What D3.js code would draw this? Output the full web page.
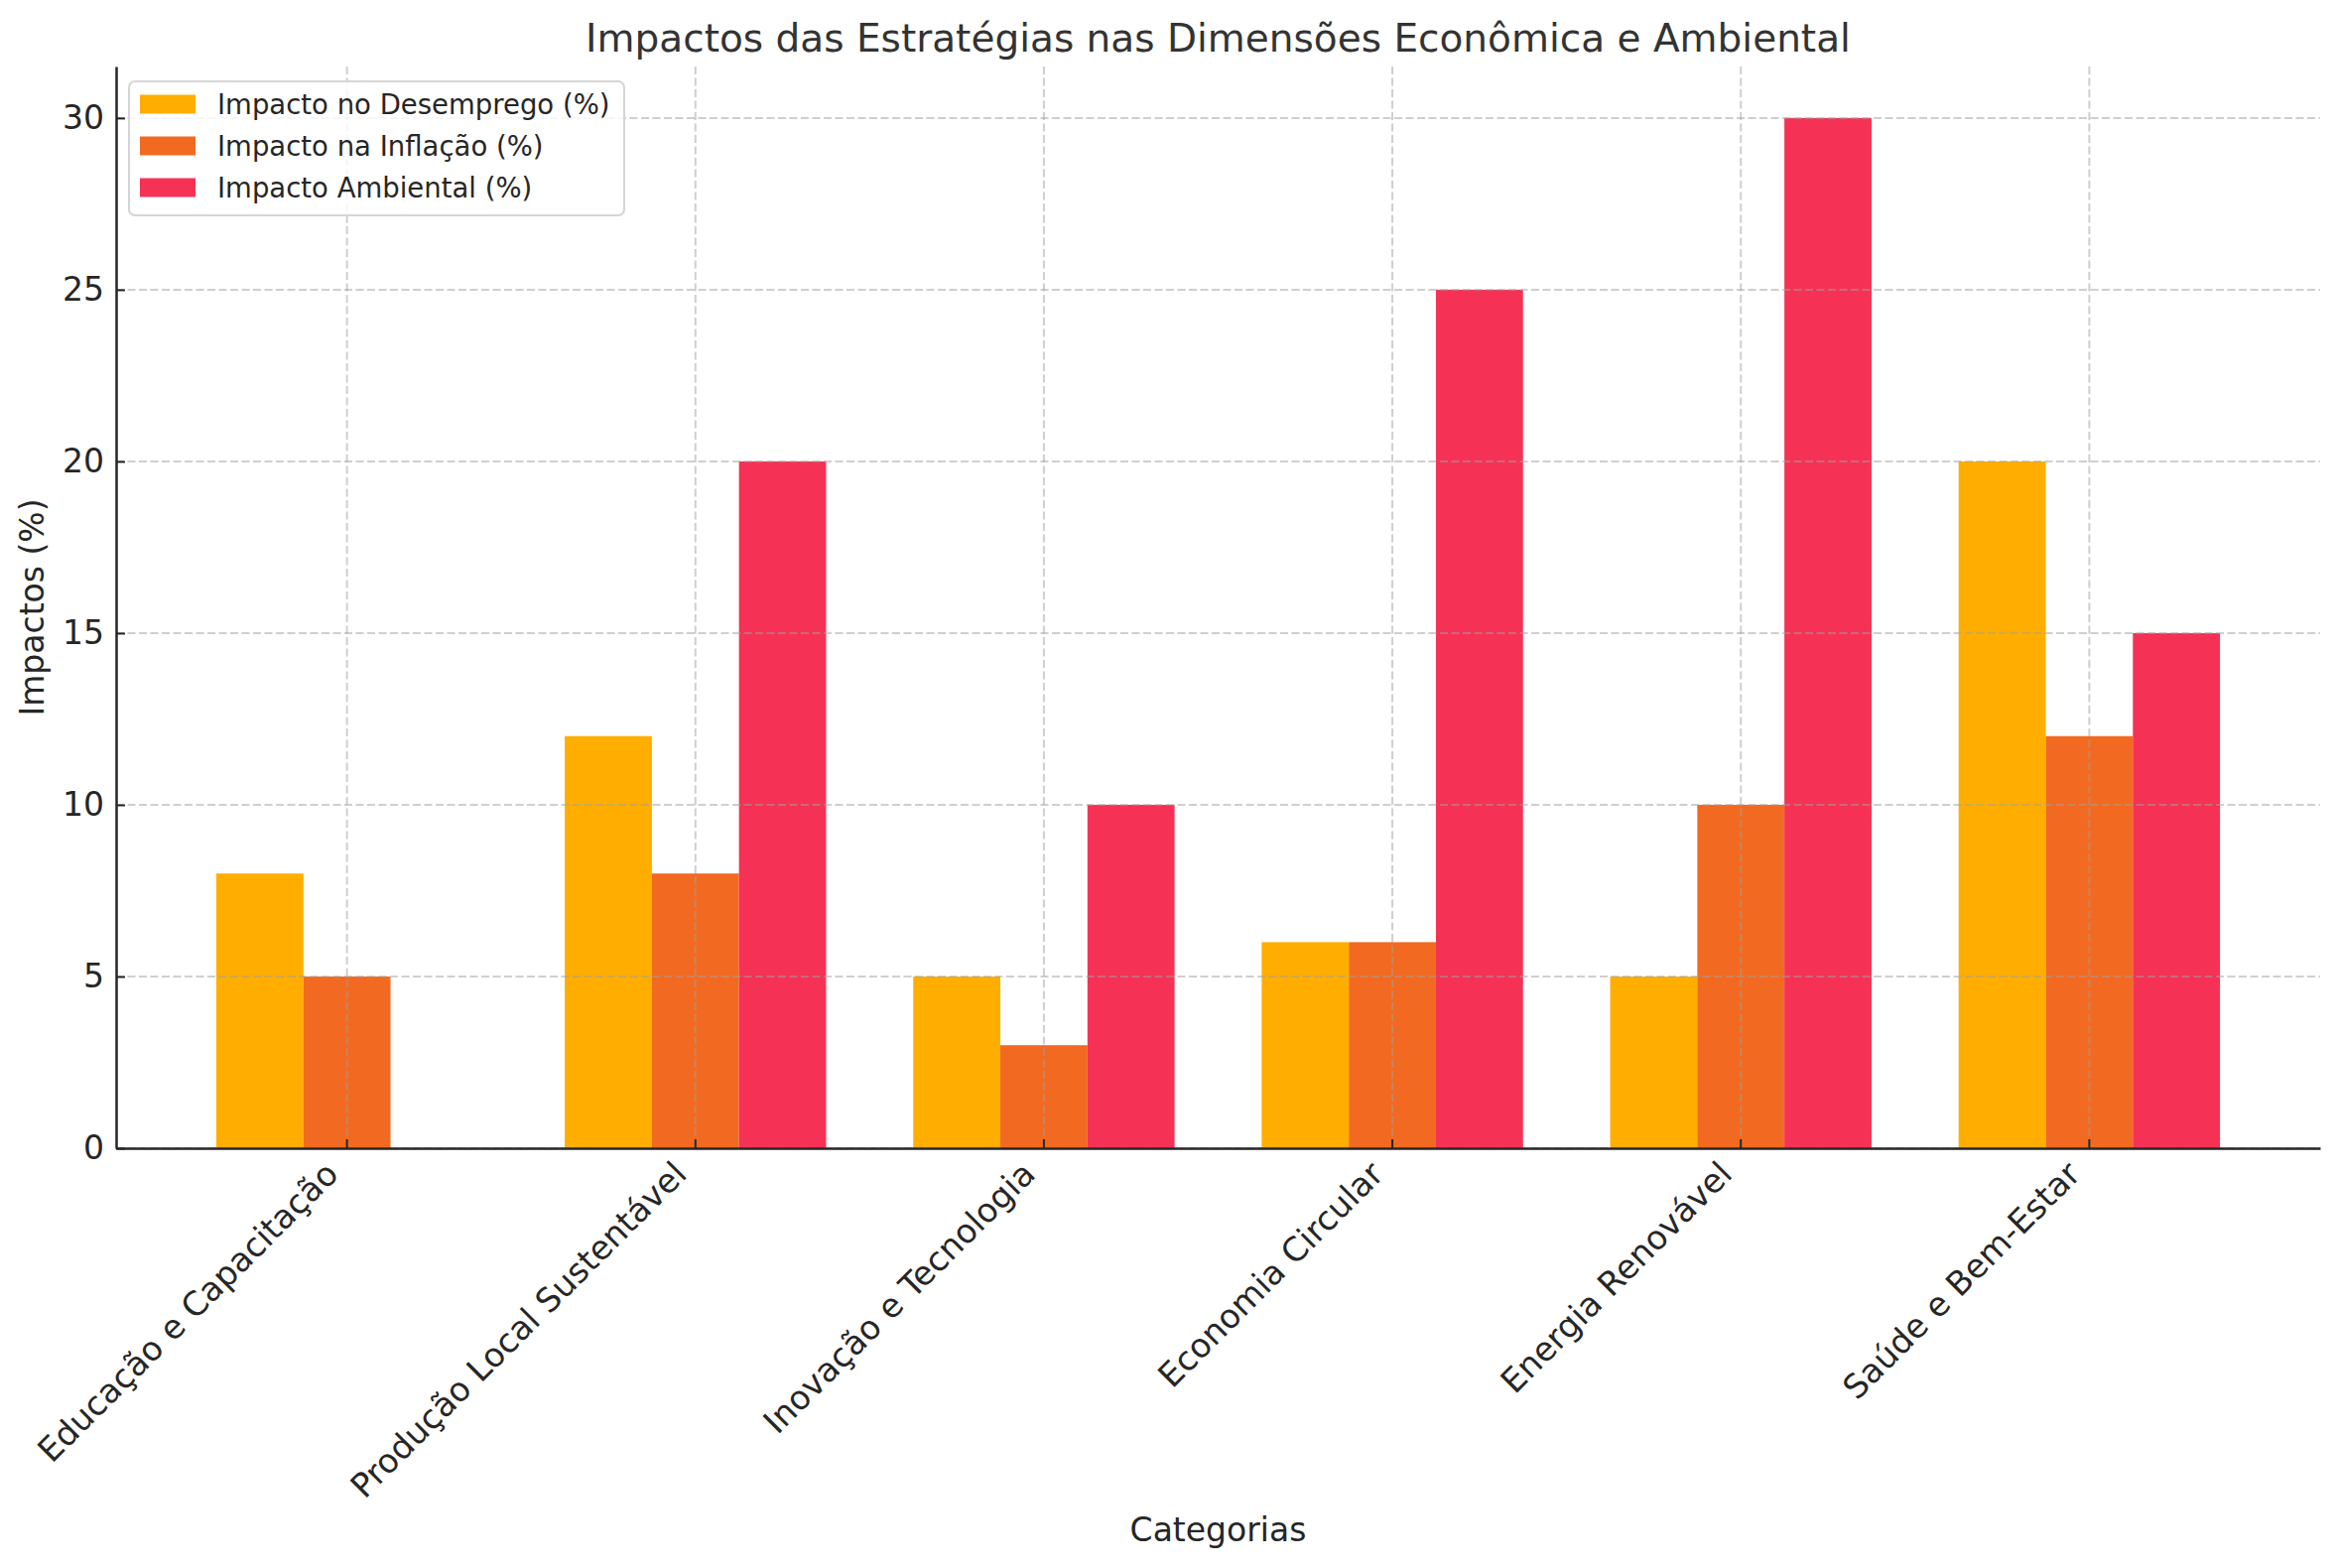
<!DOCTYPE html>
<html>
<head>
<meta charset="utf-8">
<script src="https://cdn.jsdelivr.net/npm/d3@7"></script>
<style>
body { margin: 0; background: #fff; }
text { font-family: "DejaVu Sans", sans-serif; }
</style>
</head>
<body>
<svg width="2358" height="1580"></svg>
<script>
// dados
var categories = [
    'Educação e Capacitação',
    'Produção Local Sustentável',
    'Inovação e Tecnologia',
    'Economia Circular',
    'Energia Renovável',
    'Saúde e Bem-Estar'
]
var desemprego = [8, 12, 5, 6, 5, 20]
var inflacao = [5, 8, 3, 6, 10, 12]
var ambiental = [0, 20, 10, 25, 30, 15]
var seriesNames = ['Impacto no Desemprego (%)', 'Impacto na Inflação (%)', 'Impacto Ambiental (%)']
var yTicks = [0, 5, 10, 15, 20, 25, 30]

var colors = ['#ffae00', '#f26a21', '#f53255']
var seriesValues = [desemprego, inflacao, ambiental]

var svg = d3.select('svg')
// "top" é reservado no window, por isso nomes próprios
var plotLeft = 117, plotRight = 2338, plotTop = 67, plotBottom = 1157

// escalas
var x0 = d3.scaleBand()
    .domain(categories)
    .range([plotLeft, plotRight])
    .paddingInner(0)
    .paddingOuter(0.1625)

var x1 = d3.scaleBand()
    .domain(seriesNames)
    .range([0, x0.bandwidth()])
    .paddingInner(0)
    .paddingOuter(0.5)

var y = d3.scaleLinear()
    .domain([0, 31.5])
    .range([plotBottom, plotTop])

// barras
seriesNames.forEach(function (name, i) {
    svg.append('g').selectAll('rect')
        .data(seriesValues[i])
        .enter().append('rect')
        .attr('x', function (d, j) { return x0(categories[j]) + x1(name) })
        .attr('y', function (d) { return y(d) })
        .attr('width', x1.bandwidth())
        .attr('height', function (d) { return y(0) - y(d) })
        .attr('fill', colors[i])
})

// grade (por cima das barras)
var grid = svg.append('g')
    .attr('stroke', '#a0a0a0')
    .attr('stroke-opacity', 0.5)
    .attr('stroke-width', 2)
    .attr('stroke-dasharray', '8,3.5')
grid.selectAll('.gy').data(yTicks).enter().append('line')
    .attr('x1', plotLeft).attr('x2', plotRight)
    .attr('y1', function (d) { return y(d) })
    .attr('y2', function (d) { return y(d) })
grid.selectAll('.gx').data(categories).enter().append('line')
    .attr('y1', plotTop).attr('y2', plotBottom)
    .attr('x1', function (d) { return x0(d) + x0.bandwidth() / 2 })
    .attr('x2', function (d) { return x0(d) + x0.bandwidth() / 2 })

// eixos
var yAxis = svg.append('g')
    .attr('transform', 'translate(' + plotLeft + ',0)')
    .call(d3.axisLeft(y).tickValues(yTicks).tickSize(-9).tickSizeOuter(0).tickPadding(12))
yAxis.selectAll('text')
    .attr('font-size', 33)
    .attr('fill', '#262626')
    .attr('font-family', '"DejaVu Sans", sans-serif')

var xAxis = svg.append('g')
    .attr('transform', 'translate(0,' + plotBottom + ')')
    .call(d3.axisBottom(x0).tickSize(-9).tickSizeOuter(0))
xAxis.selectAll('text')
    .attr('y', null)
    .attr('dy', null)
    .attr('text-anchor', 'end')
    .attr('transform', 'translate(-7,28) rotate(-45)')
    .attr('font-size', 33.5)
    .attr('fill', '#262626')
    .attr('font-family', '"DejaVu Sans", sans-serif')

svg.selectAll('.domain').attr('stroke', '#262626').attr('stroke-width', 2.5)
svg.selectAll('.tick line').attr('stroke', '#262626').attr('stroke-width', 2)

// títulos
svg.append('text')
    .attr('x', (plotLeft + plotRight) / 2)
    .attr('y', 52)
    .attr('text-anchor', 'middle')
    .attr('font-size', 39)
    .attr('fill', '#333333')
    .text('Impactos das Estratégias nas Dimensões Econômica e Ambiental')

svg.append('text')
    .attr('x', (plotLeft + plotRight) / 2)
    .attr('y', 1553)
    .attr('text-anchor', 'middle')
    .attr('font-size', 33)
    .attr('fill', '#262626')
    .text('Categorias')

svg.append('text')
    .attr('transform', 'translate(44,' + (plotTop + plotBottom) / 2 + ') rotate(-90)')
    .attr('text-anchor', 'middle')
    .attr('font-size', 33)
    .attr('fill', '#262626')
    .text('Impactos (%)')

// legenda
var legend = svg.append('g')
legend.append('rect')
    .attr('x', 130).attr('y', 82)
    .attr('width', 499).attr('height', 135)
    .attr('rx', 6)
    .attr('fill', '#ffffff')
    .attr('fill-opacity', 0.8)
    .attr('stroke', '#d5d5d5')
    .attr('stroke-width', 2)

var items = legend.selectAll('.item').data(seriesNames).enter().append('g')
    .attr('transform', function (d, i) { return 'translate(0,' + (105 + i * 42) + ')' })
items.append('rect')
    .attr('x', 141).attr('y', -9.5)
    .attr('width', 56).attr('height', 19)
    .attr('fill', function (d, i) { return colors[i] })
items.append('text')
    .attr('x', 219).attr('y', 10)
    .attr('font-size', 27.5)
    .attr('fill', '#262626')
    .text(function (d) { return d })
</script>
</body>
</html>
